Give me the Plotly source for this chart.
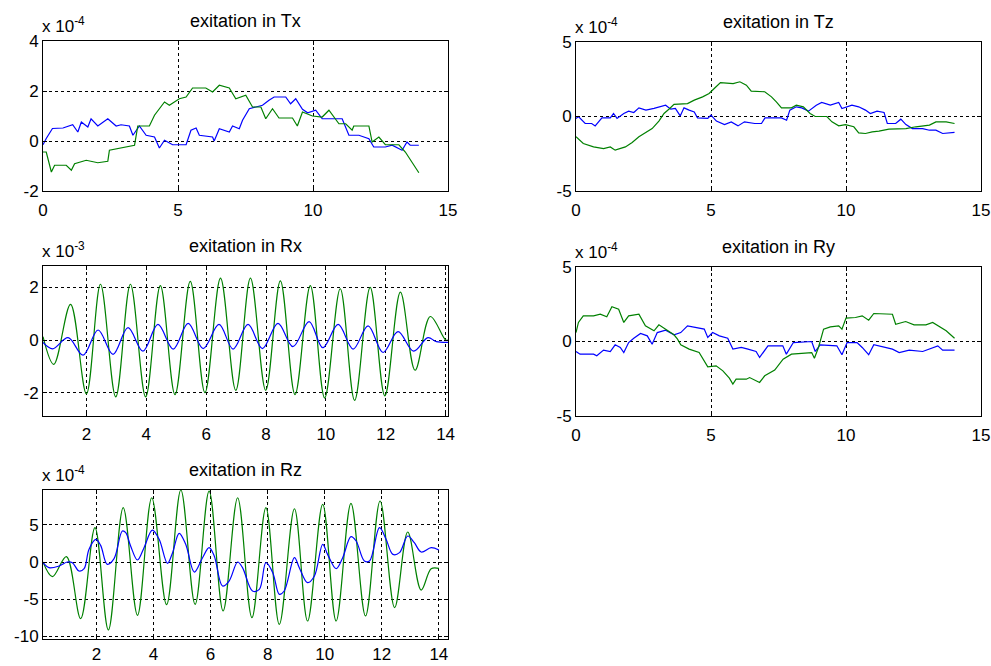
import plotly.graph_objects as go

W, H = 991, 666

# ---------------- data (values in units of the axis exponent) ----------------
# exitation in Tx  (x 10^-4)
tx_blue_t = [0, 0.12, 0.35, 0.74, 1.1, 1.29, 1.42, 1.66, 1.78, 2.03, 2.4, 2.71, 2.89, 3.2, 3.33, 3.57,
             3.82, 4.13, 4.31, 4.5, 4.8, 5.3, 5.48, 5.67, 5.79, 6.28, 6.34, 6.53, 6.9, 7.02, 7.27, 7.39,
             7.64, 7.88, 8.13, 8.37, 8.56, 8.99, 9.17, 9.36, 9.61, 9.8, 10.1, 10.34, 10.71, 11.08, 11.33,
             11.7, 12.07, 12.25, 12.68, 12.93, 13.3, 13.48, 13.6, 13.92]
tx_blue_v = [-0.15, 0.1, 0.5, 0.52, 0.65, 0.36, 0.76, 0.56, 0.89, 0.6, 0.89, 0.6, 0.65, 0.6, 0.23, 0.6,
             0.23, 0.16, -0.28, 0.03, -0.15, -0.15, 0.43, 0.52, 0.23, 0.16, 0.0, 0.49, 0.36, 0.6, 0.49, 0.83,
             1.29, 1.36, 1.43, 1.63, 1.76, 1.76, 1.49, 1.69, 1.27, 1.13, 1.23, 0.89, 0.89, 0.89, 0.23,
             0.23, 0.09, -0.24, -0.24, -0.17, -0.37, -0.04, -0.17, -0.17]
tx_green_t = [0, 0.12, 0.31, 0.43, 0.86, 1.05, 1.17, 1.6, 2.03, 2.4, 2.46, 2.71, 3.08, 3.39, 3.51, 3.94,
              4.13, 4.5, 4.68, 4.93, 5.05, 5.3, 5.54, 6.03, 6.28, 6.53, 6.9, 7.14, 7.51, 7.76, 8.07, 8.25,
              8.5, 8.74, 9.24, 9.42, 9.61, 9.98, 10.34, 10.59, 10.96, 11.21, 11.45, 11.51, 12.07, 12.19,
              12.44, 12.68, 13.18, 13.42, 13.67, 13.92]
tx_green_v = [-0.44, -0.44, -1.24, -0.97, -0.97, -1.17, -0.91, -0.77, -0.87, -0.81, -0.37, -0.31, -0.24,
              -0.17, 0.6, 0.6, 1.03, 1.56, 1.43, 1.63, 1.69, 1.76, 2.12, 2.12, 1.96, 2.23, 2.12, 1.69, 1.83,
              1.36, 1.36, 0.89, 1.29, 0.92, 0.92, 0.6, 1.16, 1.0, 0.96, 1.23, 0.69, 0.69, 0.43, 0.6, 0.6,
              -0.04, 0.16, -0.15, -0.15, -0.44, -0.84, -1.27]

# exitation in Tz  (x 10^-4)
tz_blue_t = [0, 0.09, 0.34, 0.58, 0.71, 0.96, 1.27, 1.39, 1.52, 1.77, 1.95, 2.14, 2.33, 2.59, 2.89, 3.07,
             3.32, 3.51, 3.68, 3.86, 4.0, 4.19, 4.38, 4.5, 4.88, 5.0, 5.2, 5.5, 5.75, 6.0, 6.24, 6.62, 6.87,
             7.0, 7.36, 7.61, 7.8, 7.92, 8.16, 8.36, 8.61, 8.9, 9.1, 9.42, 9.73, 9.85, 10.22, 10.47, 10.72,
             10.9, 11.15, 11.41, 11.53, 11.84, 12.03, 12.22, 12.46, 12.84, 13.09, 13.33, 13.58, 14.02]
tz_blue_v = [-0.13, 0.0, -0.47, -0.47, -0.63, -0.09, -0.09, 0.2, -0.13, 0.2, 0.36, 0.27, 0.58, 0.43, 0.54,
             0.65, 0.76, 0.49, 0.54, 0.04, 0.58, 0.43, 0.31, -0.09, -0.13, 0.09, -0.31, -0.54, -0.36, -0.63,
             -0.36, -0.47, -0.47, -0.09, -0.09, -0.09, -0.25, 0.43, 0.65, 0.58, 0.36, 0.76, 0.94, 0.76, 0.94,
             0.54, 0.76, 0.65, 0.43, 0.2, 0.36, 0.27, -0.47, -0.47, -0.18, -0.54, -0.81, -0.81, -0.92, -0.92,
             -1.14, -1.07]
tz_green_t = [0, 0.27, 0.65, 1.02, 1.27, 1.45, 1.83, 2.08, 2.33, 2.51, 2.82, 3.07, 3.26, 3.44, 3.63, 4.13,
              4.38, 4.69, 4.93, 5.12, 5.35, 5.82, 6.07, 6.31, 6.49, 6.99, 7.24, 7.42, 7.61, 7.98, 8.16, 8.42,
              8.67, 8.86, 9.29, 9.48, 9.73, 9.98, 10.29, 10.47, 10.72, 10.97, 11.22, 11.59, 12.22, 12.59,
              13.09, 13.33, 13.71, 14.02]
tz_green_v = [-1.36, -1.81, -2.04, -2.15, -2.04, -2.26, -2.04, -1.74, -1.36, -1.14, -0.81, -0.31, 0.2, 0.49,
              0.81, 0.87, 1.1, 1.32, 1.54, 1.88, 2.28, 2.21, 2.33, 2.1, 1.7, 1.66, 1.32, 0.98, 0.58, 0.58, 0.76,
              0.65, 0.2, 0.0, 0.0, -0.36, -0.63, -0.54, -0.69, -1.1, -1.14, -1.03, -0.98, -0.85, -0.81, -0.69,
              -0.58, -0.36, -0.36, -0.47]

# exitation in Rx  (x 10^-3)
rx_green_t = [0.55, 0.91, 1.47, 2.0, 2.47, 2.98, 3.47, 3.98, 4.47, 4.96, 5.47, 5.96, 6.48, 6.99, 7.48, 7.99,
              8.48, 8.97, 9.48, 9.96, 10.48, 10.96, 11.48, 11.97, 12.49, 12.98, 13.49, 14.0, 14.08]
rx_green_v = [0.13, -0.92, 1.35, -2.03, 2.11, -2.15, 2.11, -2.15, 2.06, -2.06, 2.22, -1.99, 2.34, -1.9, 2.34,
              -1.9, 2.24, -2.06, 2.06, -2.19, 1.94, -2.28, 1.99, -2.11, 1.81, -1.14, 0.89, 0.0, 0.0]
rx_blue_t = [0.55, 0.87, 1.39, 1.89, 2.39, 2.89, 3.39, 3.89, 4.39, 4.9, 5.4, 5.9, 6.43, 6.9, 7.4, 7.88, 8.4,
             8.9, 9.44, 9.9, 10.41, 10.91, 11.41, 11.91, 12.41, 12.93, 13.41, 13.69, 14.08]
rx_blue_v = [-0.09, -0.33, 0.09, -0.57, 0.38, -0.54, 0.47, -0.42, 0.59, -0.34, 0.63, -0.32, 0.59, -0.34, 0.59,
             -0.32, 0.63, -0.25, 0.7, -0.29, 0.59, -0.34, 0.54, -0.47, 0.32, -0.42, 0.09, -0.06, -0.09]

# exitation in Ry  (x 10^-4)
ry_blue_t = [0, 0.15, 0.65, 0.77, 1.02, 1.27, 1.45, 1.64, 1.77, 1.95, 2.14, 2.39, 2.64, 2.82, 3.01, 3.32,
             3.63, 3.88, 4.13, 4.5, 4.75, 4.88, 5.06, 5.31, 5.62, 5.81, 6.12, 6.37, 6.67, 6.8, 7.11, 7.66,
             7.79, 8.05, 8.73, 8.86, 9.04, 9.66, 9.85, 10.04, 10.41, 10.6, 10.84, 11.03, 11.72, 11.97, 12.34,
             12.84, 13.4, 13.58, 14.02]
ry_blue_v = [-0.67, -0.85, -0.85, -0.96, -0.58, -0.67, -0.22, -0.4, -0.74, -0.07, 0.22, 0.54, 0.38, -0.18,
             0.6, 0.76, 0.45, 0.6, 1.05, 0.94, 0.83, 0.27, 0.6, 0.38, 0.22, -0.51, -0.4, -0.51, -0.67, -1.07,
             -0.29, -0.29, -0.85, -0.07, 0.0, -0.67, -0.22, -0.29, -0.89, -0.07, -0.07, -0.4, -0.89, -0.22,
             -0.51, -0.74, -0.58, -0.67, -0.29, -0.58, -0.58]
ry_green_t = [0, 0.09, 0.27, 0.65, 0.9, 1.14, 1.33, 1.58, 1.77, 1.95, 2.33, 2.57, 2.89, 3.07, 3.32, 3.63,
              3.76, 3.88, 4.19, 4.56, 4.88, 5.19, 5.44, 5.68, 5.81, 5.93, 6.31, 6.43, 6.8, 6.99, 7.36, 7.67,
              7.98, 8.3, 8.73, 8.83, 8.98, 9.17, 9.42, 9.73, 9.85, 10.0, 10.35, 10.6, 10.84, 11.03, 11.72,
              11.84, 12.21, 12.52, 12.96, 13.21, 13.46, 13.71, 14.02]
ry_green_v = [0.6, 1.28, 1.72, 1.72, 1.83, 1.66, 2.33, 2.17, 1.28, 1.72, 1.83, 1.05, 0.72, 1.12, 0.83, 0.45,
              0.16, -0.22, -0.51, -0.74, -1.7, -1.63, -1.97, -2.46, -2.86, -2.53, -2.53, -2.42, -2.75, -2.3,
              -1.92, -1.19, -0.85, -0.81, -0.74, -1.12, -0.4, 0.83, 0.98, 1.05, 0.83, 1.57, 1.61, 1.72, 1.43,
              1.88, 1.83, 1.16, 1.34, 1.12, 1.12, 1.28, 0.98, 0.72, 0.22]

# exitation in Rz  (x 10^-4)
rz_green_t = [0.13, 0.46, 0.95, 1.45, 1.95, 2.42, 2.94, 3.44, 3.94, 4.46, 4.96, 5.46, 5.95, 6.44, 6.95, 7.45,
              7.94, 8.41, 8.94, 9.4, 9.93, 10.4, 10.92, 11.43, 11.94, 12.45, 12.91, 13.38, 13.73, 14.0]
rz_green_v = [0.0, -1.97, 0.72, -7.62, 4.62, -9.15, 7.31, -7.17, 8.65, -5.74, 9.69, -5.7, 9.55, -6.59, 8.65,
              -7.49, 7.31, -8.39, 7.17, -7.94, 7.76, -7.94, 7.89, -7.26, 8.21, -6.14, 4.04, -3.77, -0.9, -0.85]
rz_blue_t = [0.13, 0.34, 0.69, 0.98, 1.16, 1.39, 1.57, 1.74, 1.98, 2.15, 2.38, 2.62, 2.91, 3.03, 3.2, 3.44,
             3.67, 3.96, 4.2, 4.49, 4.67, 4.9, 5.13, 5.43, 5.72, 5.95, 6.13, 6.42, 6.65, 6.95, 7.12, 7.47, 7.71,
             7.94, 8.18, 8.41, 8.58, 8.94, 9.11, 9.4, 9.64, 9.93, 10.1, 10.4, 10.63, 10.92, 11.1, 11.39, 11.57,
             11.92, 12.15, 12.39, 12.62, 12.91, 13.14, 13.38, 13.73, 14.0]
rz_blue_v = [-0.09, -0.76, -0.54, 0.0, -0.09, -1.21, -0.9, 1.7, 3.05, 2.24, -0.31, 0.45, 4.17, 3.95, 2.15,
             0.27, 1.93, 4.3, 3.05, -0.18, 1.26, 3.86, 2.38, -1.35, 0.58, 1.93, 0.81, -3.23, -2.56, 0.0, -0.76,
             -3.9, -3.68, -0.09, -1.43, -4.35, -3.9, 0.58, -0.76, -2.78, -1.88, 2.38, 1.03, -0.9, 0.58, 3.41,
             2.83, 0.13, 0.13, 4.62, 3.05, 1.03, 1.26, 3.5, 2.6, 1.35, 1.93, 1.61]

titles = ["exitation in Tx", "exitation in Tz", "exitation in Rx", "exitation in Ry", "exitation in Rz"]
exponents = ["-4", "-4", "-3", "-4", "-4"]

xticks_a = [0, 5, 10, 15]
xticks_b = [2, 4, 6, 8, 10, 12, 14]
yticks_tx = [-2, 0, 2, 4]
yticks_5 = [-5, 0, 5]
yticks_rx = [-2, 0, 2]
yticks_rz = [-10, -5, 0, 5]

# ---------------- layout geometry (pixels) ----------------
panels = [
    dict(box=(43, 448, 41, 191), xr=[0, 15], yr=[-2, 4], xt=xticks_a, yt=yticks_tx, standoff=4,
         series=[(tx_blue_t, tx_blue_v, "#0000ff"), (tx_green_t, tx_green_v, "#008000")], shape="linear"),
    dict(box=(576, 981, 42, 191), xr=[0, 15], yr=[-5, 5], xt=xticks_a, yt=yticks_5, standoff=4,
         series=[(tz_blue_t, tz_blue_v, "#0000ff"), (tz_green_t, tz_green_v, "#008000")], shape="linear"),
    dict(box=(43, 448, 266, 416), xr=[0.55, 14.08], yr=[-2.87, 2.8], xt=xticks_b, yt=yticks_rx, standoff=3,
         series=[(rx_green_t, rx_green_v, "#008000"), (rx_blue_t, rx_blue_v, "#0000ff")], shape="spline"),
    dict(box=(576, 981, 267, 416), xr=[0, 15], yr=[-5, 5], xt=xticks_a, yt=yticks_5, standoff=4,
         series=[(ry_blue_t, ry_blue_v, "#0000ff"), (ry_green_t, ry_green_v, "#008000")], shape="linear"),
    dict(box=(43, 448, 490, 639), xr=[0.13, 14.32], yr=[-10.36, 9.69], xt=xticks_b, yt=yticks_rz, standoff=0,
         series=[(rz_green_t, rz_green_v, "#008000"), (rz_blue_t, rz_blue_v, "#0000ff")], shape="spline"),
]

FONT = "Liberation Sans, Arial, Helvetica, sans-serif"
FS = 17
FS_TITLE = 18


def lab(v):
    return str(v)  # plain ASCII hyphen for negatives, as in the original


fig = go.Figure()
layout = dict(width=W, height=H, margin=dict(l=0, r=0, t=0, b=0, autoexpand=False),
              paper_bgcolor="white", plot_bgcolor="white", showlegend=False,
              font=dict(family=FONT, size=FS, color="black"))
annotations = []

for i, p in enumerate(panels, start=1):
    x0, x1, yt_px, yb_px = p["box"]
    xa = "x" if i == 1 else f"x{i}"
    ya = "y" if i == 1 else f"y{i}"
    common = dict(showline=True, linecolor="black", linewidth=1, mirror="ticks",
                  ticks="inside", ticklen=4, tickcolor="black", tickwidth=1,
                  showgrid=True, gridcolor="black", griddash="dot", gridwidth=1,
                  zeroline=False, tickfont=dict(family=FONT, size=FS, color="black"),
                  fixedrange=True)
    layout["xaxis" if i == 1 else f"xaxis{i}"] = dict(
        domain=[x0 / W, x1 / W], range=p["xr"], tickvals=p["xt"],
        ticktext=[lab(v) for v in p["xt"]], ticklabelstandoff=p["standoff"], anchor=ya, **common)
    layout["yaxis" if i == 1 else f"yaxis{i}"] = dict(
        domain=[1 - yb_px / H, 1 - yt_px / H], range=p["yr"], tickvals=p["yt"],
        ticktext=[lab(v) for v in p["yt"]], anchor=xa, **common)
    for t, v, c in p["series"]:
        fig.add_trace(go.Scatter(x=t, y=v, xaxis=xa, yaxis=ya, mode="lines",
                                 line=dict(color=c, width=1.2, shape=p["shape"],
                                           smoothing=1.0 if p["shape"] == "spline" else None),
                                 hoverinfo="skip", cliponaxis=True))
    # title
    annotations.append(dict(text=titles[i - 1], xref="paper", yref="paper",
                            x=(x0 + x1) / 2 / W, y=1 - (yt_px - 20) / H,
                            xanchor="center", yanchor="middle", showarrow=False,
                            font=dict(family=FONT, size=FS_TITLE, color="black")))
    # exponent label
    annotations.append(dict(text=f"x 10<sup>{exponents[i - 1]}</sup>", xref="paper", yref="paper",
                            x=(x0 - 3) / W, y=1 - (yt_px - 3) / H,
                            xanchor="left", yanchor="bottom", showarrow=False,
                            font=dict(family=FONT, size=FS, color="black")))

layout["annotations"] = annotations
fig.update_layout(**layout)
fig.write_html("out.html", config={"displayModeBar": False},
               post_script="document.body.style.margin='0px';document.body.style.overflow='hidden';")
